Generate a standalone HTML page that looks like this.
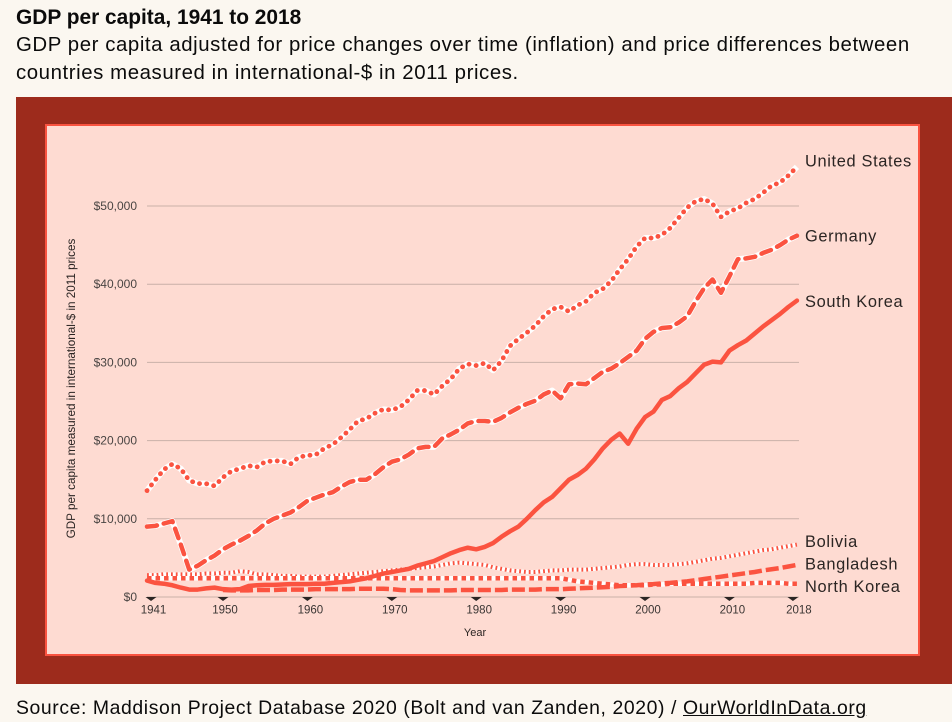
<!DOCTYPE html>
<html lang="en">
<head>
<meta charset="utf-8">
<title>GDP per capita, 1941 to 2018</title>
<style>
html,body{margin:0;padding:0;background:#fbf7f0;}
body{width:952px;height:722px;overflow:hidden;position:relative;font-family:"Liberation Sans",sans-serif;color:#0b0b0b;}
#title{position:absolute;left:16px;top:6px;font-size:20.9px;font-weight:bold;line-height:24px;white-space:nowrap;}
#subtitle{position:absolute;left:16px;top:31px;font-size:20.4px;line-height:28px;width:930px;letter-spacing:0.575px;}
#frame{position:absolute;left:16px;top:97px;width:936px;height:587px;background:#9d2b1c;}
#chart{position:absolute;left:45px;top:124px;width:875px;height:532px;background:#fedbd2;border:0;}
#inner-border{position:absolute;left:45px;top:124px;width:871px;height:528px;border:2px solid #f95340;}
#source{position:absolute;left:16px;top:695px;font-size:19.4px;line-height:26px;white-space:nowrap;letter-spacing:0.59px;}
#source a{color:#0b0b0b;text-decoration:underline;}
svg{position:absolute;left:0;top:0;}
svg text{font-family:"Liberation Sans",sans-serif;}
</style>
</head>
<body>
<div id="title">GDP per capita, 1941 to 2018</div>
<div id="subtitle">GDP per capita adjusted for price changes over time (inflation) and price differences between countries measured in international-$ in 2011 prices.</div>
<div id="frame"></div>
<div id="chart"></div>
<div id="inner-border"></div>
<svg id="svg" width="952" height="722" viewBox="0 0 952 722"></svg>
<div id="source">Source: Maddison Project Database 2020 (Bolt and van Zanden, 2020) / <a href="#">OurWorldInData.org</a></div>
<script>
const unitedStates = [13.6,15.0,16.3,17.0,16.4,14.9,14.5,14.5,14.2,15.3,
16.1,16.4,16.8,16.6,17.3,17.4,17.4,17.0,17.9,18.1,
18.2,19.0,19.5,20.4,21.4,22.5,22.8,23.5,24.0,23.9,
24.3,25.2,26.4,26.4,25.9,27.0,27.9,29.2,29.8,29.6,
29.9,29.0,30.2,32.1,33.0,33.8,34.7,35.9,36.8,37.1,
36.5,37.3,37.8,38.9,39.4,40.4,41.9,43.2,44.8,45.9,
45.9,46.3,47.2,48.5,49.8,50.6,50.9,50.3,48.6,49.3,
49.7,50.4,50.9,51.7,52.6,53.0,53.9,55.0];
const germany = [9.0,9.1,9.4,9.7,6.7,3.5,4.0,4.7,5.3,6.1,
6.7,7.2,7.8,8.5,9.4,10.0,10.4,10.8,11.5,12.3,
12.7,13.1,13.4,14.1,14.7,15.0,15.0,15.7,16.6,17.3,
17.6,18.2,19.0,19.2,19.2,20.3,20.8,21.4,22.2,22.5,
22.5,22.4,22.9,23.6,24.2,24.7,25.1,25.9,26.4,25.4,
27.2,27.3,27.2,28.0,28.8,29.2,29.9,30.7,31.5,33.0,
33.9,34.4,34.5,35.1,35.9,37.8,39.5,40.6,38.9,41.0,
43.2,43.3,43.5,44.0,44.4,45.0,45.7,46.2];
const southKorea = [2.1,1.8,1.7,1.5,1.2,0.95,0.95,1.1,1.2,1.0,
0.95,1.0,1.4,1.5,1.55,1.55,1.6,1.65,1.65,1.65,
1.7,1.7,1.8,1.9,2.0,2.2,2.4,2.7,3.0,3.2,
3.4,3.6,4.0,4.3,4.6,5.1,5.6,6.0,6.3,6.1,
6.4,6.9,7.7,8.4,9.0,10.0,11.1,12.1,12.8,13.9,
15.0,15.6,16.4,17.6,19.0,20.1,20.9,19.6,21.5,23.0,
23.7,25.2,25.7,26.7,27.5,28.6,29.7,30.1,30.0,31.5,
32.2,32.8,33.7,34.6,35.4,36.2,37.1,37.9];
const bolivia = [2.8,2.8,2.9,2.9,2.9,2.9,2.9,3.0,3.0,3.1,
3.1,3.3,3.2,2.9,2.9,2.8,2.7,2.7,2.6,2.6,
2.6,2.6,2.7,2.8,2.9,3.0,3.1,3.2,3.3,3.4,
3.5,3.6,3.7,3.8,3.9,4.1,4.3,4.4,4.3,4.2,
4.1,3.8,3.6,3.4,3.3,3.2,3.2,3.3,3.4,3.4,
3.5,3.5,3.5,3.6,3.7,3.8,3.9,4.1,4.2,4.2,
4.1,4.1,4.1,4.2,4.3,4.5,4.7,4.9,5.0,5.2,
5.4,5.6,5.8,6.0,6.1,6.3,6.5,6.7];
const bangladesh = [null,null,null,null,null,null,null,null,null,0.9,
0.85,0.85,0.85,0.9,0.9,0.9,0.95,0.95,0.95,0.95,
1.0,1.0,1.0,1.0,1.0,1.05,1.05,1.05,1.05,1.0,
0.9,0.85,0.85,0.85,0.85,0.85,0.85,0.9,0.9,0.9,
0.9,0.9,0.9,0.95,0.95,0.95,0.95,1.0,1.0,1.0,
1.05,1.1,1.15,1.2,1.25,1.3,1.4,1.45,1.5,1.6,
1.65,1.75,1.8,1.9,2.0,2.15,2.3,2.45,2.6,2.75,
2.9,3.05,3.2,3.4,3.55,3.7,3.9,4.1];
const northKorea = [2.4,2.4,2.4,2.4,2.4,2.4,2.4,2.4,2.4,2.4,
2.4,2.4,2.4,2.4,2.4,2.4,2.4,2.4,2.4,2.4,
2.4,2.4,2.4,2.4,2.4,2.4,2.4,2.4,2.4,2.4,
2.4,2.4,2.4,2.4,2.4,2.4,2.4,2.4,2.4,2.4,
2.4,2.4,2.4,2.4,2.4,2.4,2.4,2.4,2.4,2.4,
2.2,2.0,1.9,1.8,1.7,1.6,1.5,1.5,1.5,1.5,
1.6,1.6,1.7,1.7,1.7,1.7,1.7,1.7,1.7,1.7,
1.7,1.7,1.8,1.8,1.8,1.8,1.7,1.7];
const firstYear = 1941;
const yTicks = [0,10,20,30,40,50];
const yTickLabels = ["$0","$10,000","$20,000","$30,000","$40,000","$50,000"];
const xTicks = [1941,1950,1960,1970,1980,1990,2000,2010,2018];

const NS = "http://www.w3.org/2000/svg";
const svg = document.getElementById("svg");
function xScale(year){ return 223 + (year - 1950) * 8.44; }
function yScale(v){ return 597 - v * 7.82; }
function make(tag, attrs){
  const el = document.createElementNS(NS, tag);
  for (const k in attrs) el.setAttribute(k, attrs[k]);
  svg.appendChild(el);
  return el;
}
function pathFor(values){
  let d = "";
  values.forEach(function(v, i){
    if (v === null) return;
    d += (d ? "L" : "M") + xScale(firstYear + i).toFixed(2) + " " + yScale(v).toFixed(2);
  });
  return d;
}
yTicks.forEach(function(t, i){
  const grid = make("line", {x1:147, x2:799, y1:yScale(t), y2:yScale(t), stroke:"#c9b0a8", "stroke-width":1});
  
  
  const lab = make("text", {x:137, y:yScale(t)+4, "text-anchor":"end", "font-size":12, fill:"#4a4543"});
  
  
  lab.textContent = yTickLabels[i];
});
xTicks.forEach(function(yr){
  const px = yr === 1941 ? xScale(yr) + 4 : yr === 2018 ? xScale(yr) - 4 : xScale(yr);
  const tick = make("polygon", {points:(px-5.5)+",597 "+(px+5.5)+",597 "+px+",601", fill:"#2b2523"});
  
  
  const lab = make("text", {x:xScale(yr)+ (yr===1941?6.5:yr===1950?2:yr===2018?2:3), y:613.5, "text-anchor":"middle", "font-size":11.5, fill:"#3a3533"});
  
  
  lab.textContent = yr;
});
const yearTitle = make("text", {x:475, y:636, "text-anchor":"middle", "font-size":11, fill:"#2b2523"});


yearTitle.textContent = "Year";
const yTitle = make("text", {x:0, y:0, "text-anchor":"middle", "font-size":11.7, fill:"#2b2523", transform:"translate(75,388.5) rotate(-90)"});


yTitle.textContent = "GDP per capita measured in international-$ in 2011 prices";

const red = "#fb5340";
function halo(values, width){
  const h = make("path", {d:pathFor(values), fill:"none", stroke:"#ffffff", "stroke-width":width, "stroke-linejoin":"round"});
  
  
}
// bolivia
halo(bolivia, 4);
const boliviaLine = make("path", {d:pathFor(bolivia), fill:"none", stroke:red, "stroke-width":4, "stroke-dasharray":"1.8 3"});


// north korea
halo(northKorea, 4.5);
const nkLine = make("path", {d:pathFor(northKorea), fill:"none", stroke:red, "stroke-width":4.5, "stroke-dasharray":"4.5 4"});


// bangladesh
const bdLine = make("path", {d:pathFor(bangladesh), fill:"none", stroke:red, "stroke-width":4.5, "stroke-dasharray":"13 4"});


// south korea
const skLine = make("path", {d:pathFor(southKorea), fill:"none", stroke:red, "stroke-width":4.5, "stroke-linejoin":"round", "stroke-linecap":"round"});


// germany
halo(germany, 6);
const deLine = make("path", {d:pathFor(germany), fill:"none", stroke:red, "stroke-width":4.5, "stroke-linecap":"round", "stroke-linejoin":"round", "stroke-dasharray":"10 7"});


// united states
halo(unitedStates, 6);
const usLine = make("path", {d:pathFor(unitedStates), fill:"none", stroke:red, "stroke-width":4.8, "stroke-linecap":"round", "stroke-linejoin":"round", "stroke-dasharray":"0.1 7.1"});



const seriesLabels = ["United States","Germany","South Korea","Bolivia","Bangladesh","North Korea"];
const labelNames = ["label-united-states","label-germany","label-south-korea","label-bolivia","label-bangladesh","label-north-korea"];
const labelValues = [55.0,46.2,37.9,6.7,4.1,1.7];
const labelNudges = [-4.5,1.5,2,-2,0,4];
seriesLabels.forEach(function(s, i){
  const t = make("text", {x:805, y:yScale(labelValues[i])+labelNudges[i], "font-size":16.4, "letter-spacing":0.65, fill:"#2b2523", "dominant-baseline":"middle"});
  
  
  t.textContent = s;
});
</script>
</body>
</html>
